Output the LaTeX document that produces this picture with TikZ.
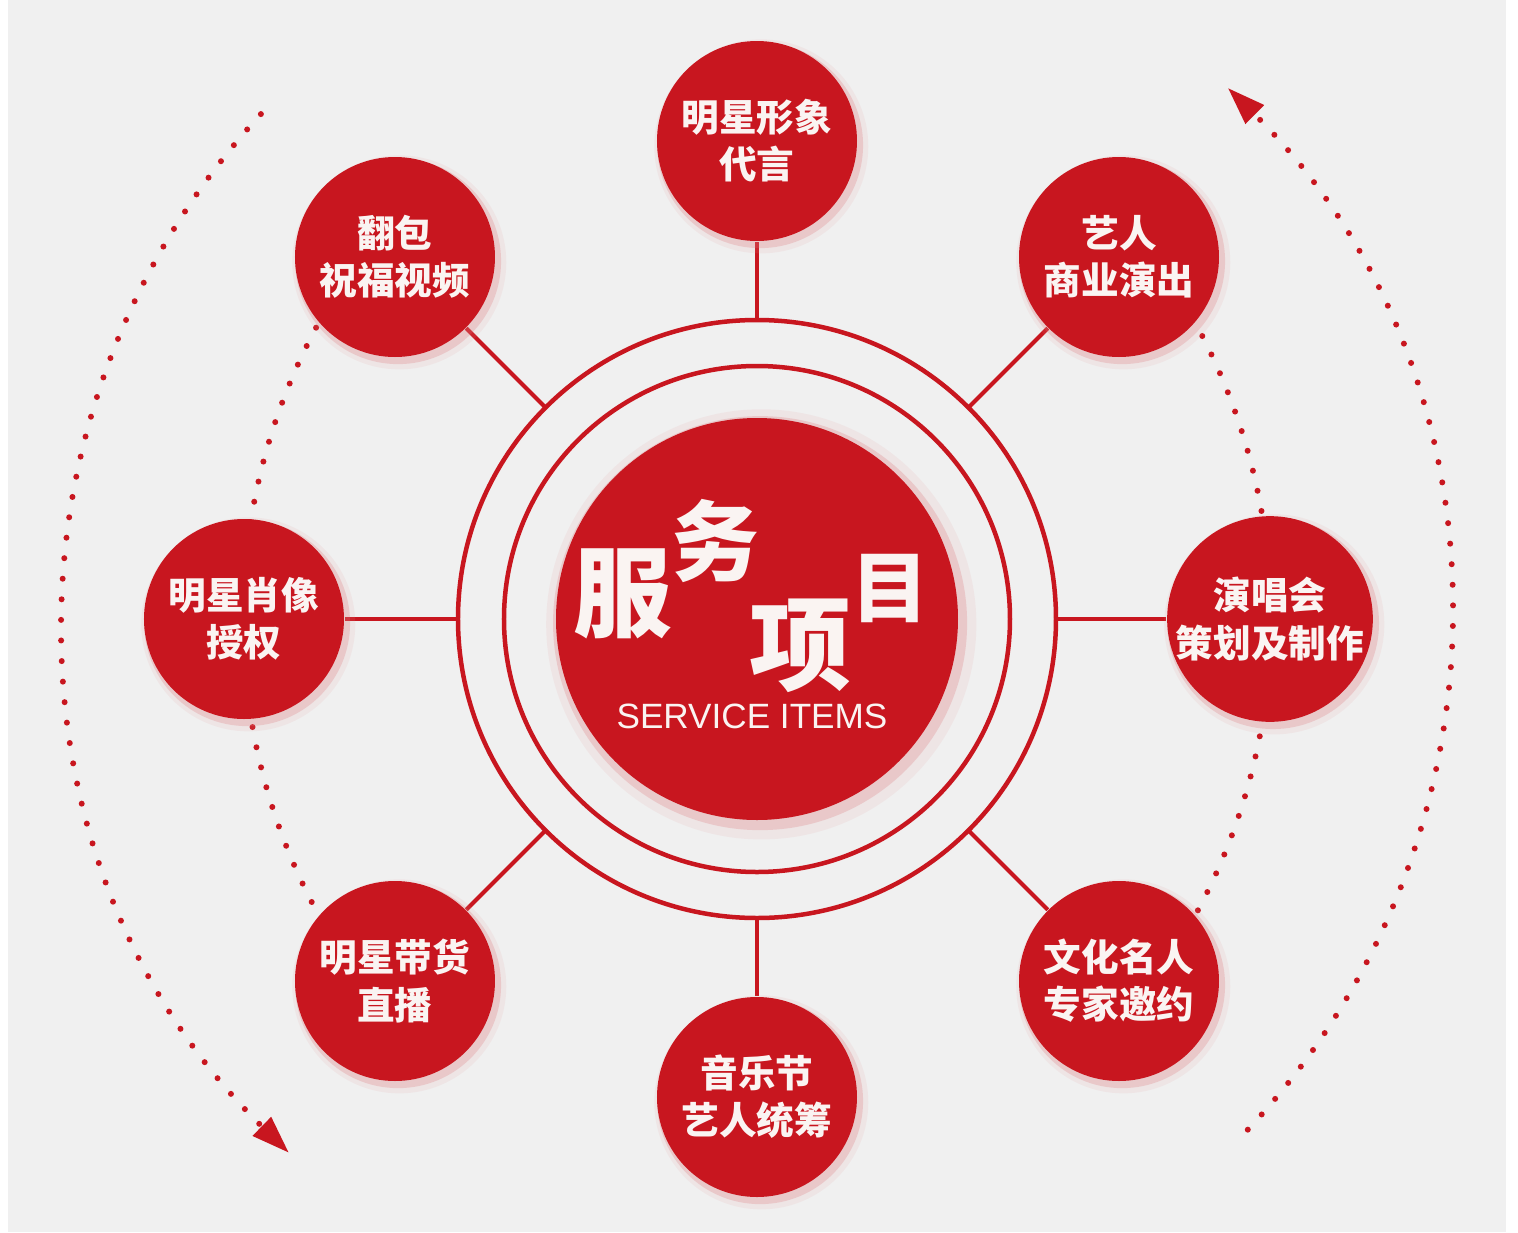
\documentclass[tikz,border=0pt]{standalone}
\usepackage{fontspec}
\setmainfont{Liberation Sans}
\newfontfamily\cjk{Noto Sans CJK SC}
\usetikzlibrary{arrows.meta,shadows}
\definecolor{svred}{HTML}{C8161F}
\definecolor{svgray}{HTML}{F0F0F0}
\definecolor{svwhite}{HTML}{FAF4F2}
\newcommand\tchar[2]{{\fontsize{#1}{#1}\selectfont #2}}
\pgfdeclarelayer{base}
\pgfdeclarelayer{back}
\pgfsetlayers{base,back,main}
\begin{document}
\begin{tikzpicture}[
	glow/.style={general shadow={shadow xshift=0.04cm,shadow yshift=-0.05cm,shadow scale=1.07,fill=svred!45,opacity=0.12},
		general shadow={shadow xshift=0.03cm,shadow yshift=-0.04cm,shadow scale=1.03,fill=svred!60,opacity=0.25}},
	sat/.style={circle,fill=svred,minimum size=2cm,inner sep=0pt,text=svwhite,align=center,glow,
		font=\cjk\bfseries\fontsize{10.7pt}{13.4pt}\selectfont},
	ring/.style={circle,draw=svred,line width=0.045cm,inner sep=0pt,outer sep=0pt},
	spoke/.style={svred,line width=0.04cm},
	dots/.style={svred,line width=0.06cm,line cap=round,dash pattern=on 0pt off 0.206cm},
	title/.style={text=svwhite,inner sep=0pt,anchor=base,font=\cjk\bfseries}
	]
	\useasboundingbox (-7.57,-6.13) rectangle (7.61,6.19);
	\begin{pgfonlayer}{base}
		\fill[svgray] (-7.49,-6.13) rectangle (7.49,6.19);
	\end{pgfonlayer}

	\node[ring,minimum size=5.98cm] (outer) at (0,0) {};
	\node[ring,minimum size=5.06cm] (inner) at (0,0) {};
	\node[circle,fill=svred,minimum size=4.02cm,inner sep=0pt,glow] (hub) at (0,0) {};
	\node[title] (cn) at (-0.06,-0.104) {\tchar{28pt}{服}\raisebox{0.55cm}{\tchar{25pt}{务}}\kern-0.1cm\raisebox{-0.534cm}{\tchar{29pt}{项}}\raisebox{0.129cm}{\tchar{22pt}{目}}};
	\node[text=svwhite,inner sep=0pt,font=\fontsize{10pt}{12pt}\selectfont] (en) at (-0.05,-0.97) {SERVICE ITEMS};

	\node[sat] (img) at (0,4.78) {明星形象\\代言};
	\node[sat] (wish) at (-3.62,3.62) {翻包\\祝福视频};
	\node[sat] (show) at (3.62,3.62) {艺人\\商业演出};
	\node[sat] (portrait) at (-5.13,0) {明星肖像\\授权};
	\node[sat] (concert) at (5.13,0) {演唱会\\策划及制作};
	\node[sat] (live) at (-3.62,-3.62) {明星带货\\直播};
	\node[sat] (guest) at (3.62,-3.62) {文化名人\\专家邀约};
	\node[sat] (fest) at (0,-4.78) {音乐节\\艺人统筹};

	\coordinate (lin) at (1.03,0);
	\coordinate (rin) at (-1.03,0);
	\coordinate (lout) at (0.53,0);
	\coordinate (rout) at (-0.53,0);

	\begin{pgfonlayer}{back}
		\foreach \s in {img,wish,show,portrait,concert,live,guest,fest}
			\draw[spoke] (outer) -- (\s);
		\draw[dots] (lin) ++(148:6.17) arc[start angle=148,end angle=212,radius=6.17];
		\draw[dots] (rin) ++(-32:6.17) arc[start angle=-32,end angle=32,radius=6.17];
		\draw[dots,-{Triangle[length=0.38cm,width=0.25cm]}] (lout) ++(137.4:7.46) arc[start angle=137.4,end angle=225.7,radius=7.46];
		\draw[dots,-{Triangle[length=0.38cm,width=0.25cm]}] (rout) ++(-43.2:7.46) arc[start angle=-43.2,end angle=45.4,radius=7.46];
	\end{pgfonlayer}
\end{tikzpicture}
\end{document}
